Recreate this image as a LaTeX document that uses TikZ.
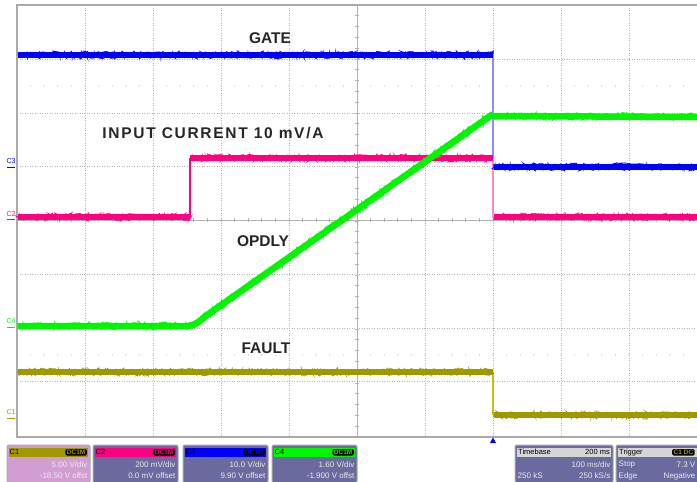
\documentclass[tikz,border=0pt]{standalone}
\usepackage{fontspec}
\setmainfont{Liberation Sans}
\usetikzlibrary{decorations.pathmorphing}
\definecolor{tblue}{RGB}{0,0,255}
\definecolor{tbluel}{RGB}{140,140,255}
\definecolor{tpink}{RGB}{255,0,128}
\definecolor{tpinkl}{RGB}{255,140,200}
\definecolor{tgreen}{RGB}{0,245,0}
\definecolor{tolive}{RGB}{160,152,0}
\definecolor{toliveh}{RGB}{200,190,20}
\definecolor{panel}{RGB}{106,106,158}
\definecolor{cibody}{RGB}{210,158,210}
\definecolor{gridc}{RGB}{180,180,180}
\definecolor{framec}{RGB}{170,170,170}
\definecolor{tbhead}{RGB}{214,214,214}
\newcommand{\chanbox}[8]{%
  \draw[boxframe, fill=#8] (#2,445) rectangle (#3,483);
  \fill[#4] ({#2+2},447.5) rectangle ({#3-2},457);
  \node[hdr, anchor=west] (#1-name) at ({#2+2.5},452.3) {#5};
  \node[badge, text=#4, anchor=east] (#1-badge) at ({#3-3},452.3) {DC1M};
  \node[bodytxt, anchor=east] (#1-l1) at ({#3-2.5},465) {#6};
  \node[bodytxt, anchor=east] (#1-l2) at ({#3-2.5},476) {#7};
}
\newcommand{\noisy}[2]{%
  \draw[#1, band] #2;
  \draw[#1, noise] #2;
  \draw[#1, noise2] #2;
}
\begin{document}
\begin{tikzpicture}[x=1pt,y=-1pt,
  band/.style={line width=6.5pt},
  noise/.style={decorate, decoration={random steps, segment length=1.1pt, amplitude=4.2pt}, line width=0.6pt},
  noise2/.style={decorate, decoration={random steps, segment length=1.7pt, amplitude=3.2pt}, line width=0.8pt},
  gridl/.style={draw=gridc, line width=0.7pt, dash pattern=on 0.8pt off 1.7pt},
  axisl/.style={draw=gridc, line width=0.7pt},
  lbl/.style={font=\fontsize{15.5}{17}\selectfont\bfseries, text=black!85, inner sep=0pt},
  mk/.style={font=\fontsize{7}{7}\selectfont, inner sep=0pt},
  boxframe/.style={draw=framec, line width=1pt, rounded corners=2pt},
  hdr/.style={font=\fontsize{7.5}{8}\selectfont, text=black, inner sep=0pt},
  badge/.style={fill=black, rounded corners=1.5pt, font=\fontsize{6.5}{7}\selectfont\bfseries, inner xsep=1.5pt, inner ysep=1pt},
  bodytxt/.style={font=\fontsize{8}{8}\selectfont, text=white!92!black, inner sep=0pt}]
\useasboundingbox (0,0) rectangle (697,482);
\fill[white] (0,0) rectangle (697,482);
\pgfmathsetseed{4242}
% grid
\foreach \x in {85,153,221,289,425,493,561,629} \draw[gridl] (\x,5) -- (\x,437);
\foreach \y in {59,113,166,274,328,381} \draw[gridl] (17,\y) -- (697,\y);
\draw[axisl] (357,5) -- (357,437);
\draw[axisl] (17,220) -- (697,220);
\foreach \i in {1,...,49} {
  \draw[axisl] ({17+13.6*\i},218) -- ({17+13.6*\i},222);
  \fill[gridc] ({17+13.6*\i},86) circle (0.6);
  \fill[gridc] ({17+13.6*\i},355) circle (0.6);
}
\foreach \i in {1,...,39} \draw[axisl] (355,{5+10.8*\i}) -- (359,{5+10.8*\i});
% frame
\draw[framec, line width=1.5pt] (697,5) -- (17,5) -- (17,437) -- (697,437);
% transitions
\draw[tbluel, line width=1.2pt] (493,55) -- (493,167);
\draw[tpinkl, line width=1.2pt] (493,158) -- (493,218);
\draw[toliveh, line width=1.2pt] (493,372) -- (493,415);
% traces
\noisy{tblue}{(18,55) -- (493,55)}
\noisy{tblue}{(494,167) -- (697,167)}
\noisy{tpink}{(18,217) -- (190,217)}
\draw[tpink, line width=1.4pt] (190,217) -- (190,158);
\noisy{tpink}{(190,158) -- (493,158)}
\noisy{tpink}{(494,217) -- (697,217)}
\noisy{tolive}{(18,372) -- (493,372)}
\noisy{tolive}{(494,415) -- (697,415)}
\noisy{tgreen}{(18,326) -- (188,326) .. controls (195,325.5) and (200,321) .. (207,315) -- (493,114)}
\noisy{tgreen}{(494,116) -- (697,117)}
% labels
\node[lbl] (gate) at (270,38) {GATE};
\node[lbl] (input) at (213,133) {\addfontfeature{LetterSpace=11}INPUT CURRENT 10 mV/A};
\node[lbl] (opdly) at (263,241) {OPDLY};
\node[lbl] (fault) at (266,348) {FAULT};
% left markers
\node[mk, text=tblue] (m3) at (11,161) {C3};
\draw[tblue, line width=1pt] (7,167) -- (15,167);
\node[mk, text=tpink] (m2) at (11,214) {C2};
\draw[tpink, line width=1pt] (7,219.5) -- (15,219.5);
\node[mk, text=tgreen] (m4) at (11,321) {C4};
\draw[tgreen, line width=1pt] (7,327) -- (15,327);
\node[mk, text=tolive] (m1) at (11,412) {C1};
\draw[tolive, line width=1pt] (7,418) -- (15,418);
% trigger marker
\fill[tblue] (490,443) -- (496,443) -- (493,437.5) -- cycle;
% channel boxes
\chanbox{c1}{7}{90}{tolive}{C1}{5.00 V/div}{-18.50 V offst}{cibody}
\chanbox{c2}{93}{178}{tpink}{C2}{200 mV/div}{0.0 mV offset}{panel}
\chanbox{c3}{183}{268}{tblue}{C3}{10.0 V/div}{9.90 V offset}{panel}
\chanbox{c4}{272}{357}{tgreen}{C4}{1.60 V/div}{-1.900 V offst}{panel}
% timebase box
\draw[boxframe, fill=panel] (515,445) rectangle (613,483);
\fill[tbhead] (517,447.5) rectangle (611,457);
\node[hdr, anchor=west] (tb-name) at (518,452.3) {Timebase};
\node[hdr, anchor=east] (tb-val) at (610,452.3) {200 ms};
\node[bodytxt, anchor=east] (tb-l1) at (610.5,465) {100 ms/div};
\node[bodytxt, anchor=west] (tb-l2a) at (517.5,476) {250 kS};
\node[bodytxt, anchor=east] (tb-l2b) at (610.5,476) {250 kS/s};
% trigger box
\draw[boxframe, fill=panel] (616,445) rectangle (704,483);
\fill[tbhead] (618,447.5) rectangle (702,457);
\node[hdr, anchor=west] (tr-name) at (619,452.3) {Trigger};
\node[badge, text=tolive, anchor=west] (tr-badge) at (672,452.3) {C1 DC};
\node[bodytxt, anchor=west] (tr-l1a) at (618.5,465) {Stop};
\node[bodytxt, anchor=east] (tr-l1b) at (695.5,465) {7.3 V};
\node[bodytxt, anchor=west] (tr-l2a) at (618.5,476) {Edge};
\node[bodytxt, anchor=east] (tr-l2b) at (695.5,476) {Negative};
\end{tikzpicture}
\end{document}
